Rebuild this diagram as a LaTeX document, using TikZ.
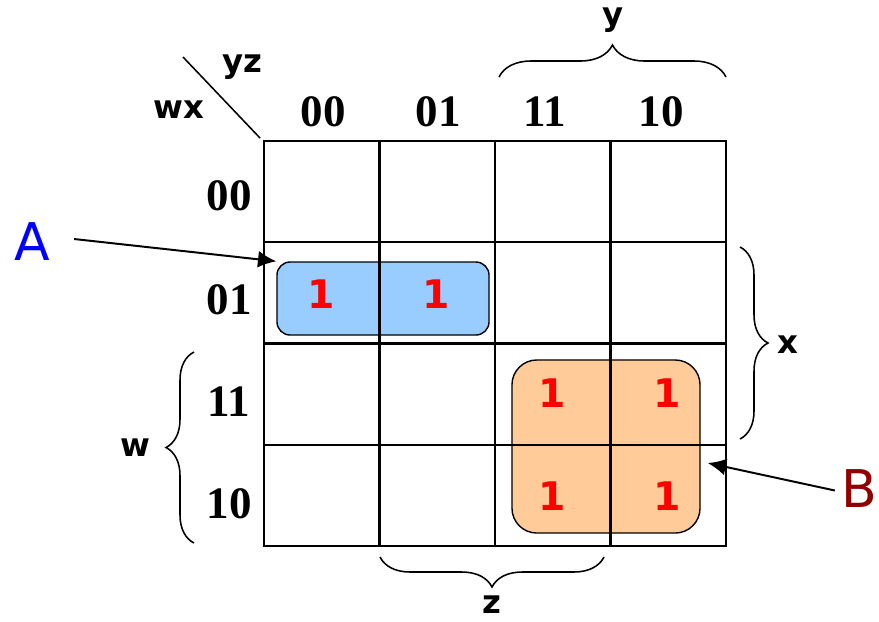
\documentclass[tikz,border=0pt]{standalone}
\usepackage{fontspec}
\setmainfont{Liberation Serif}
\newfontfamily\varfont{DejaVu Sans}
\usetikzlibrary{arrows.meta, decorations.pathreplacing, calc, positioning}

\definecolor{grpblue}{RGB}{153,204,255}
\definecolor{grporange}{RGB}{255,204,153}
\definecolor{tagred}{RGB}{145,0,0}

\begin{document}
\begin{tikzpicture}[x=0.025cm, y=-0.025cm, >={Latex[length=13pt,width=12pt]},
    gridline/.style={line width=1.5pt},
    code/.style={font=\fontsize{32}{36}\selectfont\bfseries, inner sep=0pt},
    var/.style={font=\varfont\fontsize{23}{26}\selectfont\bfseries, inner sep=0pt},
    one/.style={font=\varfont\fontsize{28}{32}\selectfont\bfseries, text=red, inner sep=0pt},
    tag/.style={font=\varfont\fontsize{37}{44}\selectfont, inner sep=0pt},
    brace/.style={decorate, decoration={brace, amplitude=#1}, line width=1.1pt},
    grp/.style={draw, line width=1pt, inner sep=0pt}]

    \useasboundingbox (0,0) rectangle (879,621);

    % groups under the grid
    \node[grp, fill=grpblue, rounded corners=0.33cm, minimum width=5.3cm, minimum height=1.825cm] (grpA) at (383,298.5) {};
    \node[grp, fill=grporange, rounded corners=0.62cm, minimum width=4.7cm, minimum height=4.325cm] (grpB) at (606,446.5) {};

    \draw[gridline] (264,141) rectangle (726,546);
    \foreach \x in {379.5, 495, 610.5} {
        \draw[gridline] (\x,141) -- (\x,546);
    };
    \foreach \y in {242.25, 343.5, 444.75} {
        \draw[gridline] (264,\y) -- (726,\y);
    };

    \draw[line width=1.1pt] (183,57) -- (260,138);
    \node[var] (wx) at (179,110) {wx};
    \node[var] (yz) at (242,67) {yz};

    \foreach \lab/\x [count=\i] in {00/323, 01/438, 11/545, 10/661} {
        \node[code] (col\i) at (\x,112) {\lab};
    };
    \foreach \lab/\y [count=\i] in {00/196, 01/300, 11/402, 10/504} {
        \node[code] (row\i) at (229,\y) {\lab};
    };

    \foreach \x/\y [count=\i] in {321/294, 436/294, 552/393, 667/393, 552/496, 667/496} {
        \node[one] (one\i) at (\x,\y) {1};
    };

    % braces
    \draw[brace=0.8cm] (499,77) -- (726,77);
    \node[var] (ylabel) at (613,20) {y};
    \draw[brace=0.7cm] (740,247) -- (740,439);
    \node[var] (xlabel) at (788,345) {x};
    \draw[brace=0.75cm] (604,557) -- (380,557);
    \node[var] (zlabel) at (492,605) {z};
    \draw[brace=0.7cm] (194,543) -- (194,352);
    \node[var] (wlabel) at (135,448) {w};

    \node[tag, text=blue] (A) at (32,242) {A};
    \node[tag, text=tagred] (B) at (859,488.5) {B};
    \draw[->, line width=1.4pt] ([shift={(24,-3)}]A.east) -- (grpA.north west);
    \draw[->, line width=1.4pt] ([shift={(-6,2)}]B.west) -- ($(grpB.east)+(7,16.5)$);
\end{tikzpicture}
\end{document}
